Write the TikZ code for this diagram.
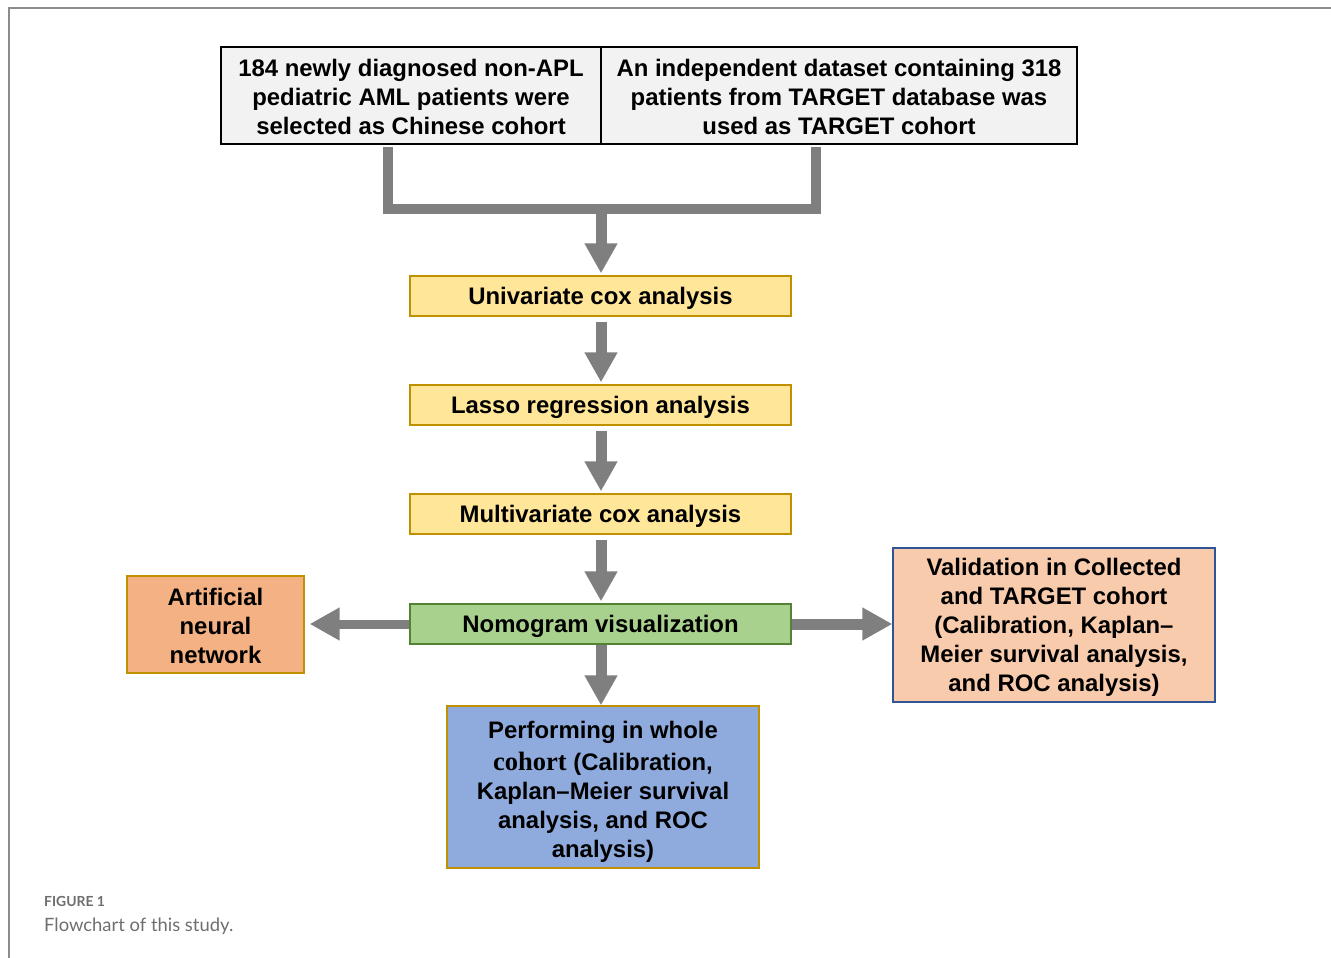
\documentclass[tikz,border=0pt]{standalone}
\usepackage{fontspec}
\setmainfont{Liberation Sans}
\newfontfamily\serifbf{Liberation Serif}
\newfontfamily\capfont{Lato}
\usetikzlibrary{arrows.meta}
\definecolor{boxgray}{HTML}{F2F2F2}
\definecolor{ygold}{HTML}{FFE699}
\definecolor{gold}{HTML}{BF9000}
\definecolor{ngreen}{HTML}{A9D18E}
\definecolor{dgreen}{HTML}{538135}
\definecolor{aorange}{HTML}{F4B183}
\definecolor{vpeach}{HTML}{F8CBAD}
\definecolor{vblue}{HTML}{2F5597}
\definecolor{pblue}{HTML}{8FAADC}
\definecolor{arrgray}{HTML}{7F7F7F}
\definecolor{framegray}{HTML}{8C8C8C}
\definecolor{capgray}{HTML}{6E6E6E}
\begin{document}
\begin{tikzpicture}[x=1pt,y=-1pt,
  every node/.style={inner sep=0pt,align=center,font=\bfseries\fontsize{23.9}{29}\selectfont},
  topbox/.style={draw=black,line width=1.5pt,fill=boxgray,minimum height=97pt},
  stepbox/.style={draw=gold,line width=1.3pt,fill=ygold,minimum width=381pt,minimum height=40pt},
  nomobox/.style={draw=dgreen,line width=1.3pt,fill=ngreen,minimum width=381pt,minimum height=40pt},
  annbox/.style={draw=gold,line width=1.3pt,fill=aorange,minimum width=177pt,minimum height=97pt},
  valbox/.style={draw=vblue,line width=1.3pt,fill=vpeach,minimum width=322pt,minimum height=154pt},
  perfbox/.style={draw=gold,line width=1.3pt,fill=pblue,minimum width=312pt,minimum height=162pt},
  bigarrow/.style={draw=arrgray,line width=11pt,-{Triangle[width=31pt,length=30pt,fill=arrgray]}},
  barline/.style={draw=arrgray,line width=10pt,line join=miter}
]
\useasboundingbox (0,0) rectangle (1331,958);
% frame
\draw[framegray,line width=1.5pt] (9,958) -- (9,8) -- (1331,8);

% boxes
\node[topbox,minimum width=380pt] (tl) at (411,95.5) {};
\node[topbox,minimum width=476pt] (tr) at (839,95.5) {};
\node[stepbox] (uni) at (600.5,296) {};
\node[stepbox] (lasso) at (600.5,405) {};
\node[stepbox] (multi) at (600.5,514) {};
\node[nomobox] (nomo) at (600.5,624) {};
\node[annbox] (ann) at (215.5,624.5) {};
\node[valbox] (val) at (1054,625) {};
\node[perfbox] (perf) at (603,787) {};

% texts
\node (tlt) at ([yshift=-1.5pt]tl.center) {184 newly diagnosed non-APL\\pediatric AML patients were\\selected as Chinese cohort};
\node (trt) at ([yshift=-1.5pt]tr.center) {An independent dataset containing 318\\patients from TARGET database was\\used as TARGET cohort};
\node (unit) at ([yshift=-2.8pt]uni.center) {Univariate cox analysis};
\node (lassot) at ([yshift=-2.8pt]lasso.center) {Lasso regression analysis};
\node (multit) at ([yshift=-2.8pt]multi.center) {Multivariate cox analysis};
\node (nomot) at ([yshift=-2.8pt]nomo.center) {Nomogram visualization};
\node (annt) at ([yshift=-1.2pt]ann.center) {Artificial\\neural\\network};
\node (valt) at ([yshift=-2.5pt]val.center) {Validation in Collected\\and TARGET cohort\\(Calibration, Kaplan--\\Meier survival analysis,\\and ROC analysis)};
\node (perft) at ([yshift=-4.5pt]perf.center) {Performing in whole\\[3pt]{\serifbf\bfseries\fontsize{26.5}{29}\selectfont cohort} (Calibration,\\Kaplan--Meier survival\\analysis, and ROC\\analysis)};

% bracket connector
\coordinate (jl) at (388,209);
\coordinate (jr) at (816,209);
\coordinate (jm) at (601,209);
\draw[barline] ([yshift=-2pt]tl.south -| jl) -- (jl) -- (jr) -- ([yshift=-2pt]tr.south -| jr);
\draw[bigarrow,shorten >=2pt] ([yshift=4pt]jm) -- (uni.north -| jm);

% vertical arrows
\draw[bigarrow,shorten <=5pt,shorten >=2pt] (uni.south -| jm) -- (lasso.north -| jm);
\draw[bigarrow,shorten <=5pt,shorten >=2pt] (lasso.south -| jm) -- (multi.north -| jm);
\draw[bigarrow,shorten <=5pt,shorten >=2pt] (multi.south -| jm) -- (nomo.north -| jm);
\draw[bigarrow,shorten >=0pt] (nomo.south -| jm) -- (perf.north -| jm);

% side arrows
\draw[bigarrow,line width=9pt,shorten >=5pt] (nomo.west) -- (ann.east |- nomo.west);
\draw[bigarrow,shorten >=0pt] (nomo.east) -- (val.west |- nomo.east);

% caption
\node[anchor=base west,font=\capfont\bfseries\fontsize{13.9}{16}\selectfont,text=capgray] (figlab) at (44,906) {FIGURE 1};
\node[anchor=base west,font=\capfont\fontsize{18.4}{21}\selectfont,text=capgray] (figcap) at (44,931) {Flowchart of this study.};
\end{tikzpicture}
\end{document}
